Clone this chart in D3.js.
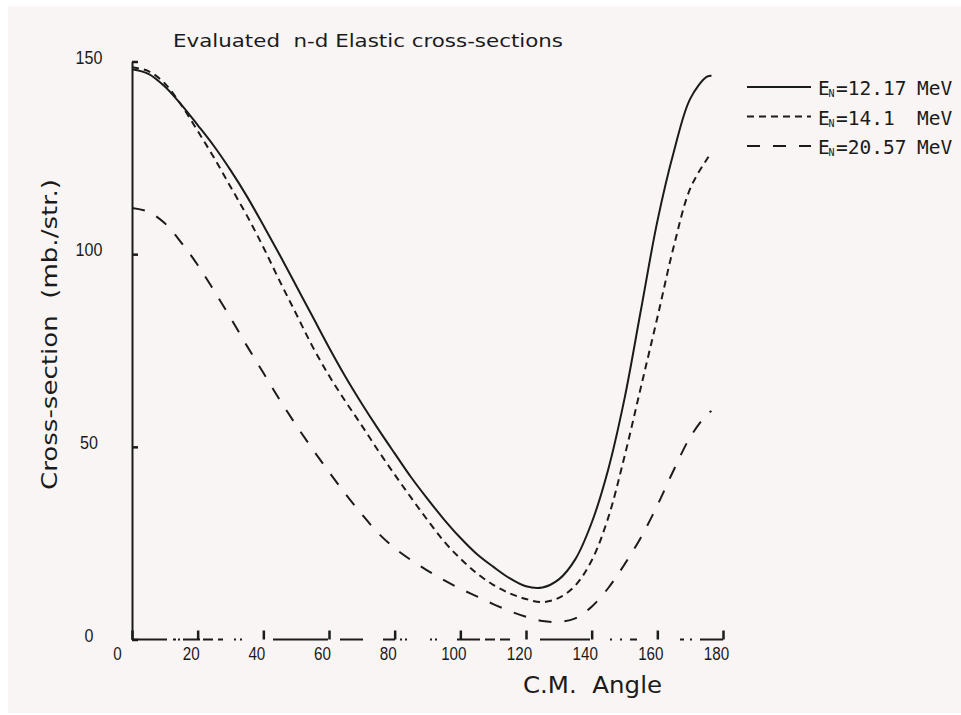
<!DOCTYPE html>
<html>
<head>
<meta charset="utf-8">
<script src="https://cdn.jsdelivr.net/npm/d3@7"></script>
<style>
  html, body { margin: 0; padding: 0; background: #ffffff; }
  svg { display: block; }
</style>
</head>
<body>
<svg id="chart" width="961" height="715"></svg>
<script>
// Centre-of-mass angle (degrees) at which each cross-section is tabulated
const angles = [0, 5, 10, 15, 20, 25, 30, 35, 40, 45, 50, 55, 60, 65, 70, 75, 80, 85, 90,
                95, 100, 105, 110, 115, 120, 125, 130, 135, 140, 145, 150, 155, 160, 165, 170, 175, 176.5];

// Evaluated n-d elastic cross-sections (mb/sr)
const sigma1217 = [148, 146.8, 143.5, 138.8, 133.5, 128, 121.8, 115, 107.5, 99.8, 91.8, 83.8, 75.8, 68.2, 61.2, 54.6, 48.3, 42.1, 36.5,
                   31.2, 26.4, 22.2, 18.9, 15.9, 13.8, 13.5, 15.6, 20.8, 30.3, 44, 62.5, 85.5, 108.5, 126.5, 140.3, 146, 146.3];
const sigma141  = [148.5, 147.5, 144.3, 138.7, 132, 125, 117.5, 110, 101.8, 93, 84.5, 76, 68.5, 61.8, 55.5, 49, 42.8, 36.8, 31,
                   25.5, 21, 17.2, 14.2, 12, 10.5, 9.7, 10.8, 14, 20.5, 31.5, 47.5, 65.5, 83.5, 102, 117, 124.5, 126.3];
const sigma2057 = [112, 111, 108, 103, 97.2, 90.5, 83.5, 76.2, 69.2, 62.2, 55.6, 49.4, 43.5, 37.8, 32.5, 27.6, 23.7, 20.6, 17.9,
                   15.4, 13.2, 11.2, 9.2, 7.4, 5.9, 4.8, 4.6, 5.5, 8.5, 13.3, 19.5, 26.5, 34.8, 44, 52.5, 58.3, 59.3];

const energies = ["12.17", "14.1", "20.57"];
const xTicks = [0, 20, 40, 60, 80, 100, 120, 140, 160, 180];
const yTicks = [0, 50, 100, 150];

const titleText = "Evaluated  n-d Elastic cross-sections";
const xTitleText = "C.M.  Angle";
const yTitleText = "Cross-section  (mb./str.)";

const ink = "#1b1b1b";
const svg = d3.select("#chart");

// paper
svg.append("rect")
  .attr("x", 8).attr("y", 6)
  .attr("width", 953).attr("height", 707)
  .attr("fill", "#faf5f5");

const x = d3.scaleLinear().domain([0, 180]).range([132, 723]);
const y = d3.scaleLinear().domain([0, 150]).range([639.5, 61.5]);

// ---- y axis: ticks point into the plot, labels centred to the left
const gy = svg.append("g")
  .attr("transform", `translate(${x(0)},0)`)
  .call(d3.axisLeft(y).tickValues(yTicks).tickSizeInner(-6).tickSizeOuter(0).tickPadding(0));
gy.select(".domain").attr("stroke", ink).attr("stroke-width", 2);
gy.selectAll(".tick line").attr("stroke", ink).attr("stroke-width", 2.5);
gy.selectAll(".tick text")
  .attr("x", 0).attr("dy", "0.35em")
  .attr("text-anchor", "middle")
  .attr("transform", "translate(-43,-4.5) scale(0.92,1)")
  .attr("fill", ink)
  .style("font-family", "'Liberation Sans', Arial, sans-serif")
  .style("font-size", "17.5px");

// ---- x axis: plotter-drawn baseline with a broken stroke
svg.append("line")
  .attr("x1", x(0)).attr("x2", x(180))
  .attr("y1", y(0)).attr("y2", y(0))
  .attr("stroke", ink).attr("stroke-width", 1.8)
  .attr("stroke-dasharray", "35,6,3,2,2,3,17,3,10,5,5,11,2,4,2,31,55,12,23,20,12,5,2,3,2,23,2,3,2,20,23,5,10,5,10,30,50,20,2,8,2,8,7,43,4,6,2,8,23,100");

const gx = svg.append("g")
  .attr("transform", `translate(0,${y(0)})`)
  .call(d3.axisBottom(x).tickValues(xTicks).tickSizeInner(-9).tickSizeOuter(0).tickPadding(8));
gx.select(".domain").remove();
gx.selectAll(".tick line").attr("stroke", ink).attr("stroke-width", 2.5);
gx.selectAll(".tick text")
  .attr("transform", d => `translate(${d === 0 ? -15 : -7},0) scale(0.87,1)`)
  .attr("fill", ink)
  .style("font-family", "'Liberation Sans', Arial, sans-serif")
  .style("font-size", "17.5px");

// ---- curves
const series = [
  { energy: energies[0], values: sigma1217, dash: null },
  { energy: energies[1], values: sigma141,  dash: "7,5" },
  { energy: energies[2], values: sigma2057, dash: "13,13" }
];

const line = d3.line()
  .x(d => x(d[0]))
  .y(d => y(d[1]))
  .curve(d3.curveCatmullRom.alpha(0.5));

svg.append("g").selectAll("path")
  .data(series)
  .join("path")
  .attr("d", s => line(angles.map((a, i) => [a, s.values[i]])))
  .attr("fill", "none")
  .attr("stroke", ink)
  .attr("stroke-width", 2)
  .attr("stroke-linecap", "butt")
  .attr("stroke-dasharray", s => s.dash);

// ---- legend
const legend = svg.append("g");
const rows = legend.selectAll("g")
  .data(series)
  .join("g")
  .attr("transform", (s, i) => `translate(0,${87 + i * 29.5})`);

rows.append("line")
  .attr("x1", 747).attr("x2", 811)
  .attr("y1", 0).attr("y2", 0)
  .attr("stroke", ink).attr("stroke-width", 2)
  .attr("stroke-dasharray", s => s.dash);

const legendFont = "'DejaVu Sans Mono', 'Liberation Mono', monospace";
rows.append("text")
  .attr("x", 818).attr("y", 8)
  .attr("fill", ink)
  .style("font-family", legendFont)
  .style("font-size", "19.5px")
  .text("E");
rows.append("text")
  .attr("x", 828.5).attr("y", 10)
  .attr("fill", ink)
  .style("font-family", legendFont)
  .style("font-size", "10px")
  .text("N");
rows.append("text")
  .attr("x", 836).attr("y", 8)
  .attr("fill", ink)
  .style("font-family", legendFont)
  .style("font-size", "19.5px")
  .text(s => "=" + s.energy);
rows.append("text")
  .attr("x", 917).attr("y", 8)
  .attr("fill", ink)
  .style("font-family", legendFont)
  .style("font-size", "19.5px")
  .text("MeV");

// ---- titles
svg.append("text")
  .attr("x", 173).attr("y", 46.5)
  .attr("textLength", 390).attr("lengthAdjust", "spacingAndGlyphs")
  .attr("fill", ink)
  .style("white-space", "pre")
  .style("font-family", "'DejaVu Sans', sans-serif")
  .style("font-size", "18px")
  .text(titleText);

svg.append("text")
  .attr("x", 523).attr("y", 693)
  .attr("textLength", 139).attr("lengthAdjust", "spacingAndGlyphs")
  .attr("fill", ink)
  .style("white-space", "pre")
  .style("font-family", "'DejaVu Sans', sans-serif")
  .style("font-size", "22.5px")
  .text(xTitleText);

svg.append("text")
  .attr("transform", "translate(57,490) rotate(-90)")
  .attr("x", 0).attr("y", 0)
  .attr("textLength", 311).attr("lengthAdjust", "spacingAndGlyphs")
  .attr("fill", ink)
  .style("white-space", "pre")
  .style("font-family", "'DejaVu Sans', sans-serif")
  .style("font-size", "22px")
  .text(yTitleText);
</script>
</body>
</html>
